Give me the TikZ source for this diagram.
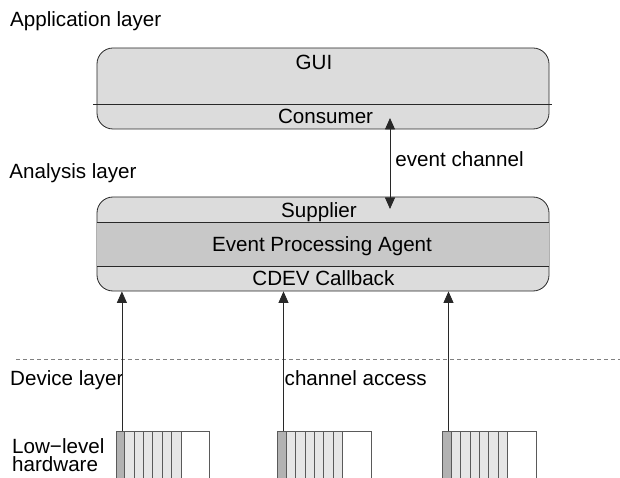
\documentclass[tikz,border=0pt]{standalone}
\usepackage{fontspec}
\setmainfont{Liberation Sans}
\usetikzlibrary{arrows.meta}
\definecolor{boxfill}{RGB}{220,220,220}
\definecolor{bandfill}{RGB}{200,200,200}
\definecolor{hwdark}{RGB}{178,178,178}
\definecolor{hwlight}{RGB}{230,230,230}
\definecolor{edgecol}{RGB}{40,40,40}
\definecolor{hwedge}{RGB}{90,90,90}
\tikzset{
  txt/.style={font=\fontsize{20.6bp}{22bp}\selectfont, inner sep=0pt, text=black},
  layerbox/.style={draw=edgecol, fill=boxfill, rounded corners=16bp, line width=0.8bp, inner sep=0pt, minimum width=452bp},
  divider/.style={draw=edgecol, line width=0.8bp},
  arr/.style={-{Triangle[length=11.5bp,width=10bp]}, line width=0.8bp, draw=edgecol},
  dblarr/.style={{Triangle[length=11.5bp,width=10bp]}-{Triangle[length=11.5bp,width=10bp]}, line width=0.8bp, draw=edgecol},
  hwbox/.style={draw=hwedge, line width=0.8bp, inner sep=0pt, minimum width=93.3bp, minimum height=60bp, anchor=north west},
  hwline/.style={draw=hwedge, line width=0.8bp},
  sep/.style={draw=gray, line width=0.8bp, dash pattern=on 4bp off 3bp}
}
\begin{document}
\begin{tikzpicture}[x=1bp,y=-1bp]
\useasboundingbox (0,0) rectangle (620,478);

% layer labels
\node[txt, anchor=base west] (applbl) at (10,27) {Application layer};
\node[txt, anchor=base west] (analbl) at (9.3,179) {Analysis layer};
\node[txt, anchor=base west] (devlbl) at (10,385) {Device layer};
\node[txt, anchor=base west, align=left, font=\fontsize{20.6bp}{18bp}\selectfont] (lowlbl) at (12,471) {Low−level\\hardware};

% application box
\node[layerbox, minimum height=81bp] (app) at (323,88.5) {};
\draw[divider] (93,104) -- (552,104);
\node[txt, anchor=base] (gui) at (314,70) {GUI};
\node[txt, anchor=base] (cons) at (325.6,124) {Consumer};

% analysis box
\node[layerbox, minimum height=94bp] (mid) at (323,244) {};
\fill[bandfill] (97.4,222.5) rectangle (548.6,266.5);
\draw[divider] (97,222.5) -- (549,222.5);
\draw[divider] (97,266.5) -- (549,266.5);
\node[txt, anchor=base] (supp) at (319,217.5) {Supplier};
\node[txt, anchor=base] (epa) at (322,251) {Event Processing Agent};
\node[txt, anchor=base] (cdev) at (323.4,285) {CDEV Callback};

% event channel
\coordinate (ectop) at (390,118);
\coordinate (ecbot) at (390,209);
\draw[dblarr] (ecbot) -- (ectop);
\node[txt, anchor=base west] (eclbl) at (395.2,166.7) {event channel};

% device layer separator
\draw[sep] (16,359) -- (620,359);
\node[txt, anchor=base west] (calbl) at (284.5,385) {channel access};

% hardware
\foreach \n/\xo in {1/115.7, 2/277.3, 3/442.3} {
  \fill[hwdark] (\xo,431) rectangle ({\xo+8.8},480);
  \fill[hwlight] ({\xo+8.8},431) rectangle ({\xo+65.3},480);
  \foreach \d in {8.8,18.2,27.6,37,46.5,55.9,65.3} {
    \draw[hwline] ({\xo+\d},431) -- ({\xo+\d},480);
  }
  \node[hwbox] (hw\n) at (\xo,431) {};
  \coordinate (port\n) at ({\xo+6.2},431);
  \draw[arr] (port\n) -- (port\n |- mid.south);
}
\end{tikzpicture}
\end{document}
